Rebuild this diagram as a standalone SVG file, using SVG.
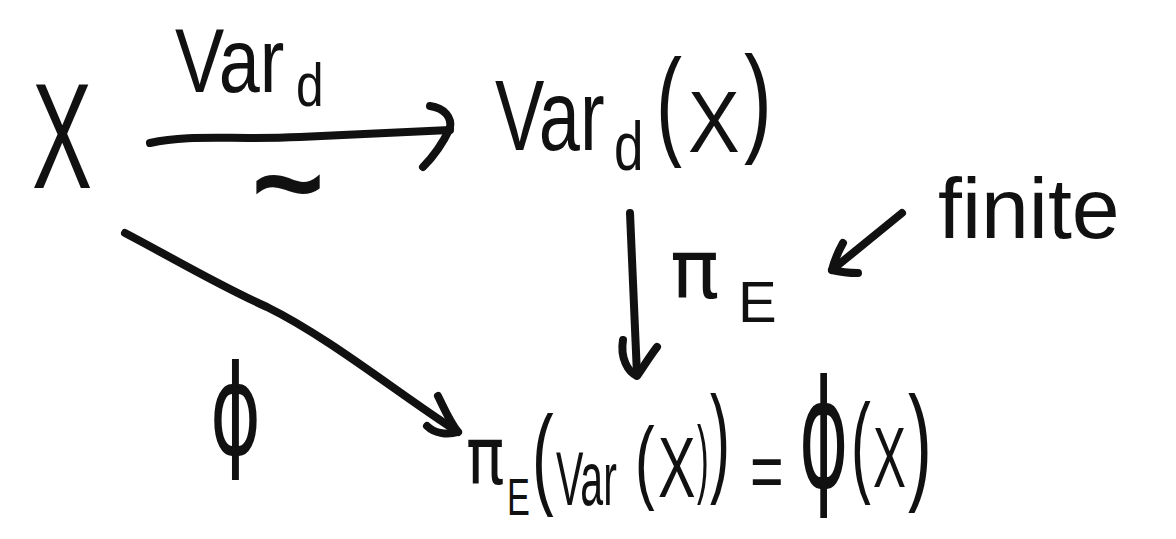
<svg xmlns="http://www.w3.org/2000/svg" width="1176" height="539" viewBox="0 0 1176 539">
<style>
  .t { font-family: "Liberation Sans", "DejaVu Sans", sans-serif; fill: #111; }
  .g { font-family: "DejaVu Sans", "Liberation Sans", sans-serif; }
  .c { fill: none; stroke: #111; stroke-width: 8; stroke-linecap: round; stroke-linejoin: round; }
</style>
<rect width="1176" height="539" fill="#ffffff"/>

<g id="connectors">
  <g id="edge-var">
    <path class="c" d="M150,143 C 190,134 230,140 300,137 S 420,131 450,130"/>
    <path class="c" d="M430,106 C 445,108 452,118 450,128 C 442,145 432,158 423,167"/>
  </g>
  <g id="edge-pi">
    <path class="c" d="M630,213 L 637,375"/>
    <path class="c" d="M623,340 C 620,358 628,372 637,376 C 644,366 650,356 657,347"/>
  </g>
  <g id="edge-phi">
    <path class="c" d="M125,233 C 180,262 220,286 267,307 C 330,338 400,395 458,432"/>
    <path class="c" d="M438,396 C 445,410 450,422 458,432 C 448,435 435,434 427,426"/>
  </g>
  <g id="edge-note">
    <path class="c" d="M902,213 L 832,270"/>
    <path class="c" d="M843,243 C 838,252 834,262 832,270 C 840,272 850,273 858,273"/>
  </g>
</g>

<g id="node-X">
  <text class="t" transform="translate(32,188) scale(0.6,1)" font-size="150">X</text>
</g>

<g id="label-var">
  <text class="t" transform="translate(175,92) scale(0.82,1)" font-size="90">Var</text>
  <text class="t" transform="translate(296,106) scale(0.8,1)" font-size="62">d</text>
  <text class="t" x="253" y="225" font-size="120" stroke="#111" stroke-width="4">~</text>
</g>

<g id="node-VardX">
  <text class="t" transform="translate(495,150) scale(0.74,1)" font-size="100">Var</text>
  <text class="t" transform="translate(614,170) scale(0.78,1)" font-size="68">d</text>
  <text class="t" transform="translate(656,143) scale(0.65,1)" font-size="120">(</text>
  <text class="t" transform="translate(688,152) scale(0.88,1)" font-size="88">X</text>
  <text class="t" transform="translate(744,140) scale(0.7,1)" font-size="120">)</text>
</g>

<g id="label-piE">
  <text class="t g" x="670" y="298" font-size="82">π</text>
  <text class="t" x="738" y="322" font-size="58">E</text>
</g>

<g id="note-finite">
  <text class="t" x="938" y="238" font-size="86">finite</text>
</g>

<g id="label-phi">
  <text class="t g" transform="translate(210,454) scale(0.62,1)" font-size="125">ϕ</text>
</g>

<g id="node-result">
  <text class="t g" transform="translate(466,484) scale(0.8,1)" font-size="80">π</text>
  <text class="t" transform="translate(507,515) scale(0.66,1)" font-size="52">E</text>
  <text class="t" transform="translate(532,494) scale(0.58,1)" font-size="112">(</text>
  <text class="t" transform="translate(556,505) scale(0.54,1)" font-size="76">Var</text>
  <text class="t" transform="translate(635,492) scale(0.64,1)" font-size="92">(</text>
  <text class="t" transform="translate(658,497) scale(0.66,1)" font-size="85">X</text>
  <text class="t" transform="translate(697,487) scale(0.4,1)" font-size="88">)</text>
  <text class="t" transform="translate(710,480) scale(0.5,1)" font-size="120">)</text>
  <text class="t" transform="translate(750,498) scale(0.72,1)" font-size="80">=</text>
  <text class="t g" transform="translate(799,487) scale(0.5,1)" font-size="150">ϕ</text>
  <text class="t" transform="translate(851,482) scale(0.53,1)" font-size="112">(</text>
  <text class="t" transform="translate(873,487) scale(0.58,1)" font-size="85">X</text>
  <text class="t" transform="translate(908,486) scale(0.56,1)" font-size="128">)</text>
</g>
</svg>
